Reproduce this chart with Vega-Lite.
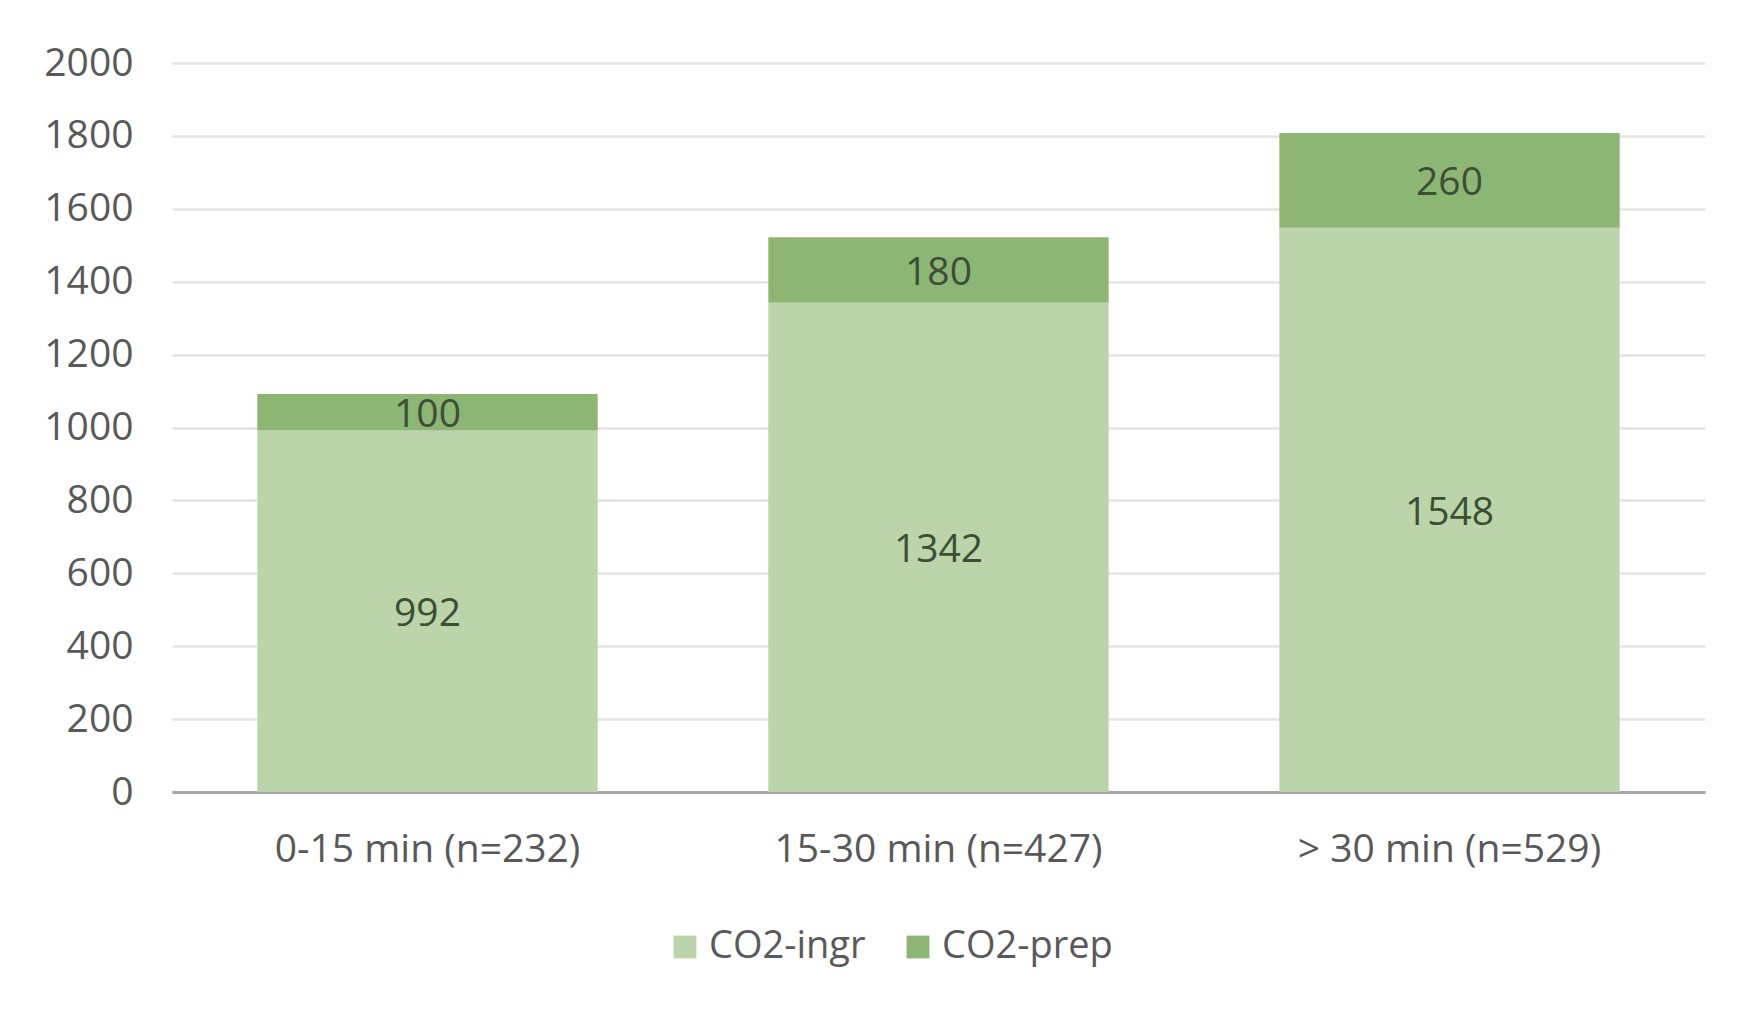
{
  "$schema": "https://vega.github.io/schema/vega-lite/v6.json",
  "width": 1533,
  "height": 729,
  "autosize": {"type": "none"},
  "padding": {"left": 172, "top": 63, "right": 39, "bottom": 219},
  "background": "white",
  "config": {
    "view": {"stroke": null},
    "font": "Open Sans"
  },
  "data": {
    "values": [
      {"cat": "0-15 min (n=232)", "series": "CO2-ingr", "value": 992},
      {"cat": "0-15 min (n=232)", "series": "CO2-prep", "value": 100},
      {"cat": "15-30 min (n=427)", "series": "CO2-ingr", "value": 1342},
      {"cat": "15-30 min (n=427)", "series": "CO2-prep", "value": 180},
      {"cat": "> 30 min (n=529)", "series": "CO2-ingr", "value": 1548},
      {"cat": "> 30 min (n=529)", "series": "CO2-prep", "value": 260}
    ]
  },
  "encoding": {
    "x": {
      "field": "cat",
      "type": "nominal",
      "sort": null,
      "title": null,
      "scale": {"paddingInner": 0.334, "paddingOuter": 0.167},
      "axis": {
        "labelAngle": 0,
        "labelFontSize": 39,
        "labelColor": "#595959",
        "labelPadding": 38,
        "labelLimit": 0,
        "ticks": false,
        "domainColor": "#a6a6a6",
        "domainWidth": 3
      }
    },
    "order": {"field": "series", "sort": "ascending"}
  },
  "layer": [
    {
      "mark": {"type": "bar"},
      "encoding": {
        "y": {
          "field": "value",
          "type": "quantitative",
          "stack": "zero",
          "title": null,
          "scale": {"domain": [0, 2000], "nice": false},
          "axis": {
            "values": [0, 200, 400, 600, 800, 1000, 1200, 1400, 1600, 1800, 2000],
            "format": "d",
            "labelFontSize": 39,
            "labelColor": "#595959",
            "labelPadding": 39,
            "ticks": false,
            "domain": false,
            "gridColor": "#e4e4e4",
            "gridWidth": 2.5
          }
        },
        "color": {
          "field": "series",
          "type": "nominal",
          "title": null,
          "scale": {"domain": ["CO2-ingr", "CO2-prep"], "range": ["#bbd4a9", "#8db574"]},
          "legend": {
            "orient": "none",
            "direction": "horizontal",
            "legendX": 494,
            "legendY": 865,
            "padding": 0,
            "symbolType": "square",
            "symbolSize": 520,
            "symbolStrokeWidth": 0,
            "labelFontSize": 38,
            "labelColor": "#595959",
            "labelOffset": 5,
            "labelLimit": 0,
            "columnPadding": 33
          }
        }
      }
    },
    {
      "mark": {"type": "text", "fontSize": 39, "color": "#3b4f35", "baseline": "middle", "dy": 3},
      "encoding": {
        "y": {"field": "value", "type": "quantitative", "stack": "zero", "bandPosition": 0.5},
        "detail": {"field": "series"},
        "text": {"field": "value", "type": "quantitative"}
      }
    }
  ]
}
